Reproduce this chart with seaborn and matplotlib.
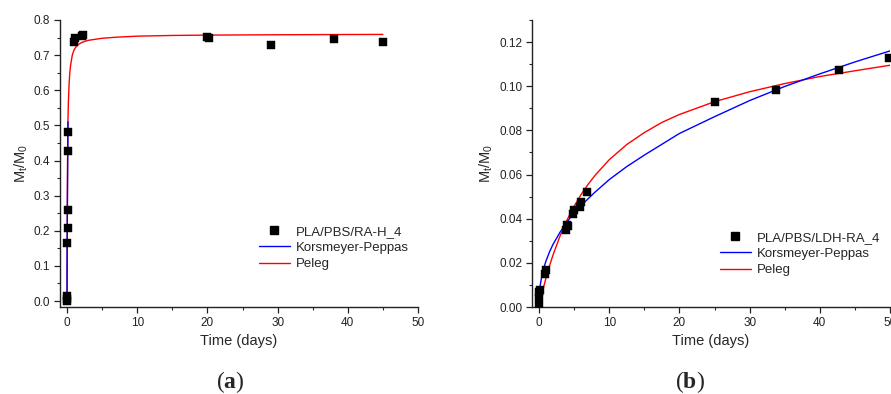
import numpy as np
import pandas as pd
import matplotlib
matplotlib.use("Agg")
import matplotlib.pyplot as plt
from matplotlib.ticker import MultipleLocator
from matplotlib.lines import Line2D
import seaborn as sns

# ---- panel (a): PLA/PBS/RA-H_4 ----
t_a = [0.0, 0.0, 0.02, 0.05, 0.08, 0.12, 0.1, 0.15, 1.0, 1.2, 2.1, 2.3, 20.0, 20.2, 29.0, 38.0, 45.0]
m_a = [0.0, 0.005, 0.015, 0.165, 0.207, 0.26, 0.427, 0.48, 0.736, 0.748, 0.755, 0.757, 0.753, 0.749, 0.730, 0.747, 0.738]

# fitted curves
kp_t_a = [0.0, 0.01, 0.03, 0.06, 0.1, 0.14]
kp_m_a = [0.0, 0.10, 0.20, 0.30, 0.42, 0.51]
pel_t_a = [0.0, 0.03, 0.06, 0.1, 0.13, 0.2, 0.3, 0.4, 0.5, 0.75, 1.0, 1.3, 1.6, 2.0, 2.5, 3.0, 4.0, 5.0, 7.0, 10.0, 15.0, 20.0, 30.0, 45.0]
pel_m_a = [0.0, 0.20, 0.33, 0.45, 0.51, 0.57, 0.62, 0.65, 0.67, 0.70, 0.715, 0.724, 0.730, 0.735, 0.739, 0.742, 0.745, 0.748, 0.751, 0.754, 0.756, 0.757, 0.758, 0.759]

# ---- panel (b): PLA/PBS/LDH-RA_4 ----
t_b = [0.0, 0.0, 0.05, 0.1, 0.8, 1.0, 3.8, 4.0, 4.1, 4.8, 5.0, 5.8, 6.0, 6.8, 25.0, 33.8, 42.7, 49.8]
m_b = [0.0005, 0.004, 0.007, 0.0078, 0.015, 0.0166, 0.035, 0.0373, 0.0365, 0.0419, 0.0438, 0.0455, 0.0476, 0.052, 0.0928, 0.0984, 0.1073, 0.113]

kp_t_b = [0.0, 0.02, 0.05, 0.1, 0.2, 0.35, 0.5, 0.75, 1.0, 1.5, 2.0, 3.0, 4.0, 5.0, 6.0, 8.0, 10.0, 12.5, 15.0, 17.5, 20.0, 25.0, 30.0, 35.0, 40.0, 45.0, 50.0]
kp_m_b = [0.0, 0.0038, 0.0057, 0.0077, 0.0104, 0.0131, 0.0154, 0.0184, 0.0209, 0.0250, 0.0284, 0.0339, 0.0386, 0.0426, 0.0460, 0.0521, 0.0577, 0.0636, 0.0688, 0.0737, 0.0786, 0.0862, 0.0935, 0.0999, 0.1056, 0.1110, 0.1160]
pel_t_b = [0.0, 0.2, 0.5, 1.0, 1.5, 2.0, 3.0, 4.0, 5.0, 6.0, 7.0, 8.0, 10.0, 12.5, 15.0, 17.5, 20.0, 25.0, 30.0, 35.0, 40.0, 45.0, 50.0]
pel_m_b = [0.0, 0.0030, 0.0070, 0.0133, 0.0187, 0.0236, 0.0322, 0.0395, 0.0456, 0.0510, 0.0556, 0.0597, 0.0667, 0.0736, 0.0790, 0.0836, 0.0872, 0.0930, 0.0975, 0.1012, 0.1044, 0.1070, 0.1095]

sns.set_style("ticks")
plt.rcParams['font.family'] = ['Liberation Sans', 'DejaVu Sans']
plt.rcParams['mathtext.default'] = 'regular'
plt.rcParams['mathtext.fontset'] = 'custom'
plt.rcParams['mathtext.bf'] = 'Liberation Serif:bold'
plt.rcParams['xtick.direction'] = 'out'
plt.rcParams['ytick.direction'] = 'out'

fig = plt.figure(figsize=(8.91, 3.94), dpi=100)
ax_a = fig.add_axes([60 / 891, 1 - 307 / 394, 358 / 891, 287 / 394])
ax_b = fig.add_axes([532 / 891, 1 - 307 / 394, 358 / 891, 287 / 394])


def draw_panel(ax, t, m, kp_t, kp_m, pel_t, pel_m):
    pts = pd.DataFrame({'t': t, 'm': m})
    # red first so the blue fit stays visible on top of it
    sns.lineplot(x=pel_t, y=pel_m, color='#ff0000', lw=1.0, ax=ax, sort=False)
    sns.lineplot(x=kp_t, y=kp_m, color='#0000ff', lw=1.0, ax=ax, sort=False)
    sns.scatterplot(data=pts, x='t', y='m', marker='s', s=30, color='black',
                    edgecolor='black', linewidth=0.3, ax=ax, zorder=3)
    ax.set_xlim(-1, 50)
    ax.xaxis.set_major_locator(MultipleLocator(10))
    ax.xaxis.set_minor_locator(MultipleLocator(5))
    ax.set_xlabel('Time (days)', fontsize=10.5, labelpad=4)
    ax.set_ylabel('M$_t$/M$_0$', fontsize=10.5, labelpad=3)
    ax.tick_params(which='major', length=4, width=0.9, labelsize=8.5, colors='#222222', pad=3)
    ax.tick_params(which='minor', length=2.5, width=0.8)
    for s in ['left', 'bottom']:
        ax.spines[s].set_linewidth(1.0)
        ax.spines[s].set_color('#222222')
    sns.despine(ax=ax)
    handles = [
        Line2D([], [], marker='s', color='black', linestyle='none', markersize=5.5),
        Line2D([], [], color='#0000ff', lw=1.0),
        Line2D([], [], color='#ff0000', lw=1.0),
    ]
    return handles


h = draw_panel(ax_a, t_a, m_a, kp_t_a, kp_m_a, pel_t_a, pel_m_a)
ax_a.set_ylim(-0.017, 0.8)
ax_a.yaxis.set_major_locator(MultipleLocator(0.1))
ax_a.yaxis.set_minor_locator(MultipleLocator(0.05))
ax_a.legend(h, ['PLA/PBS/RA-H_4', 'Korsmeyer-Peppas', 'Peleg'], frameon=False,
            fontsize=9.5, loc='upper left', bbox_to_anchor=(252 / 891, 1 - 219 / 394),
            bbox_transform=fig.transFigure, handlelength=2.4, handletextpad=0.4,
            labelspacing=0.3, borderpad=0)

h = draw_panel(ax_b, t_b, m_b, kp_t_b, kp_m_b, pel_t_b, pel_m_b)
ax_b.set_ylim(0, 0.13)
ax_b.yaxis.set_major_locator(MultipleLocator(0.02))
ax_b.yaxis.set_minor_locator(MultipleLocator(0.01))
ax_b.legend(h, ['PLA/PBS/LDH-RA_4', 'Korsmeyer-Peppas', 'Peleg'], frameon=False,
            fontsize=9.5, loc='upper left', bbox_to_anchor=(713 / 891, 1 - 225 / 394),
            bbox_transform=fig.transFigure, handlelength=2.4, handletextpad=0.4,
            labelspacing=0.3, borderpad=0)

fig.text(230 / 891, 1 - 382 / 394, r'($\mathbf{a}$)', family='Liberation Serif',
         fontsize=17, ha='center', va='center')
fig.text(690 / 891, 1 - 382 / 394, r'($\mathbf{b}$)', family='Liberation Serif',
         fontsize=17, ha='center', va='center')

fig.savefig('out.png', dpi=100)
